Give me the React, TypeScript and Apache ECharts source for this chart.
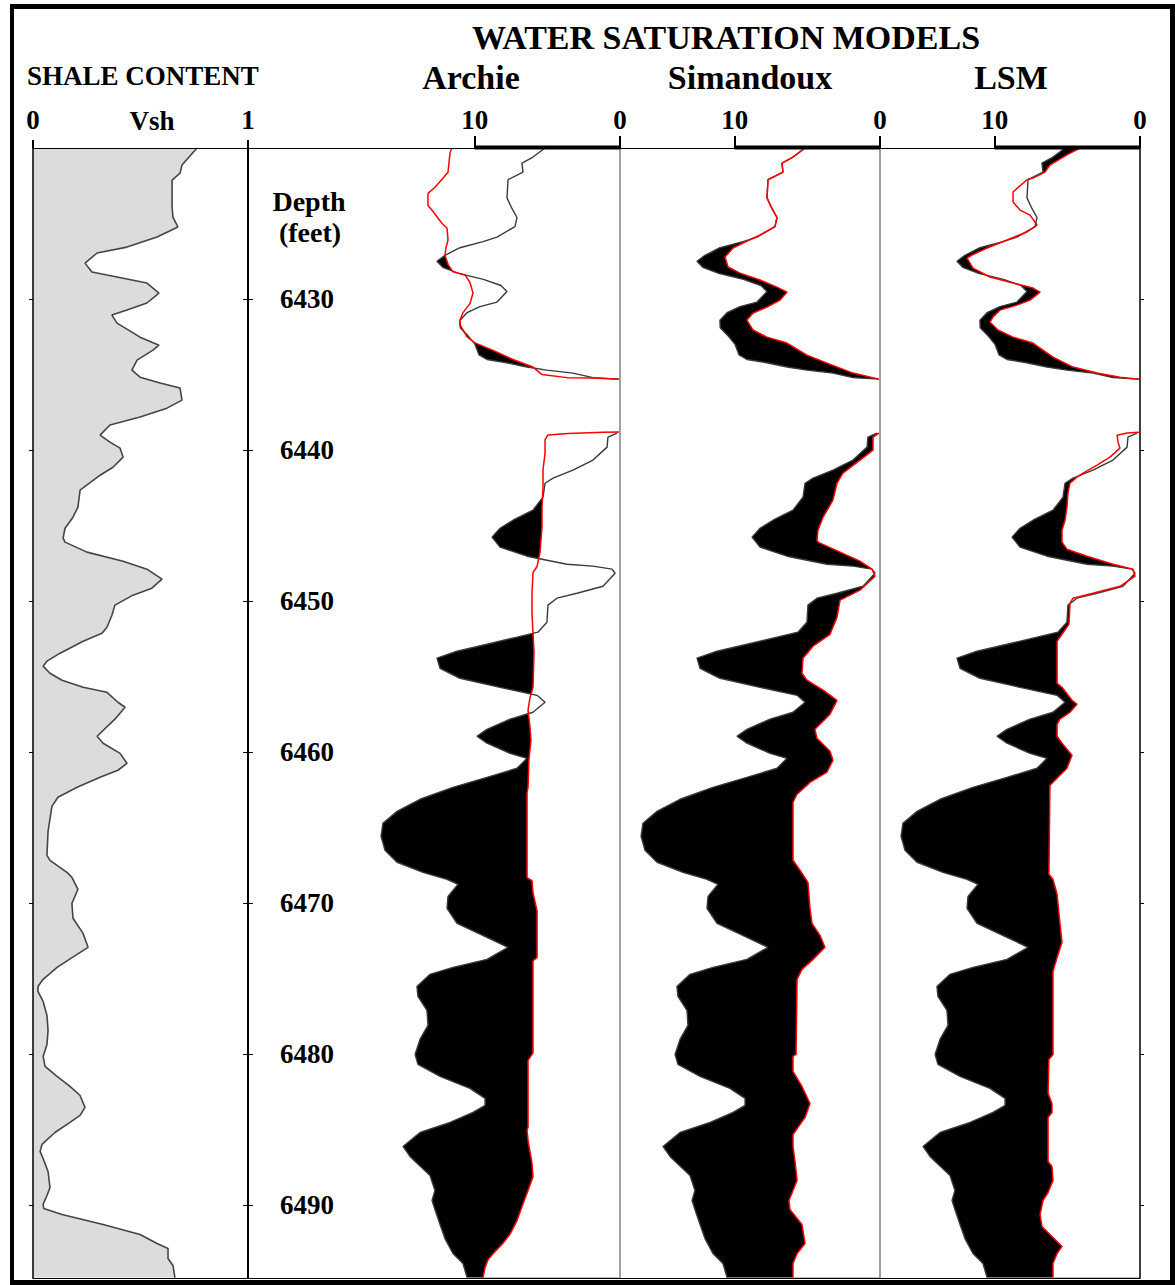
import React, { useEffect, useRef } from "react";
import * as echarts from "echarts";

type Pt = [number, number]; // [depth (ft), value]

const DEPTH_MIN = 6420;
const DEPTH_MAX = 6494.8;
const SW_MAX = 17.9;
const DEPTH_TICKS = [6430, 6440, 6450, 6460, 6470, 6480, 6490];
const VSH_TICKS = [0, 1];
const SW_TICKS = [0, 10];

// Shale volume (Vsh, 0..1)
const vshCurve: Pt[] = [
  [6420.0, 0.763], [6421.13, 0.693], [6421.66, 0.684], [6422.12, 0.647], [6423.91, 0.647], [6424.57, 0.651],
  [6425.23, 0.674], [6425.89, 0.577], [6426.56, 0.437], [6426.95, 0.298], [6427.62, 0.242], [6428.21, 0.274],
  [6428.41, 0.344], [6428.94, 0.53], [6429.6, 0.586], [6430.26, 0.53], [6430.73, 0.437], [6431.06, 0.367],
  [6431.59, 0.391], [6432.52, 0.498], [6433.05, 0.586], [6433.38, 0.558], [6434.04, 0.484], [6434.7, 0.46],
  [6435.17, 0.498], [6435.56, 0.591], [6435.89, 0.684], [6436.69, 0.693], [6437.22, 0.623], [6437.81, 0.498],
  [6438.34, 0.358], [6439.01, 0.312], [6439.47, 0.358], [6439.87, 0.405], [6440.46, 0.419], [6441.13, 0.372],
  [6441.66, 0.312], [6442.65, 0.219], [6443.77, 0.209], [6444.44, 0.186], [6445.17, 0.149], [6445.83, 0.14],
  [6446.09, 0.149], [6446.75, 0.251], [6447.35, 0.419], [6447.88, 0.53], [6448.54, 0.6], [6449.14, 0.553],
  [6449.6, 0.465], [6450.26, 0.381], [6450.93, 0.367], [6451.72, 0.344], [6452.12, 0.321], [6452.65, 0.233],
  [6453.44, 0.126], [6453.97, 0.065], [6454.3, 0.047], [6454.77, 0.079], [6455.23, 0.135], [6455.7, 0.233],
  [6456.03, 0.344], [6456.69, 0.395], [6457.02, 0.428], [6457.81, 0.381], [6458.94, 0.298], [6459.4, 0.326],
  [6460.07, 0.405], [6460.73, 0.437], [6461.19, 0.395], [6461.66, 0.312], [6462.32, 0.205], [6462.98, 0.116],
  [6463.58, 0.088], [6465.23, 0.07], [6466.82, 0.065], [6467.15, 0.079], [6467.95, 0.158], [6468.28, 0.181],
  [6469.07, 0.209], [6470.0, 0.181], [6470.99, 0.186], [6471.99, 0.233], [6472.91, 0.256], [6473.38, 0.205],
  [6474.24, 0.112], [6475.03, 0.047], [6475.5, 0.023], [6475.83, 0.023], [6476.49, 0.047], [6477.42, 0.065],
  [6478.41, 0.07], [6479.34, 0.065], [6480.13, 0.047], [6480.79, 0.056], [6481.46, 0.112], [6482.12, 0.172],
  [6482.72, 0.219], [6483.51, 0.242], [6484.04, 0.219], [6484.5, 0.172], [6485.17, 0.102], [6485.96, 0.042],
  [6486.42, 0.033], [6486.89, 0.047], [6487.75, 0.07], [6488.81, 0.079], [6489.34, 0.065], [6489.93, 0.047],
  [6490.2, 0.05], [6490.6, 0.135], [6491.26, 0.326], [6491.92, 0.498], [6492.52, 0.577], [6492.85, 0.628],
  [6493.51, 0.628], [6493.97, 0.651], [6494.77, 0.66],
];

// Reference (grey) curve, common to all three saturation tracks
const refUpper: Pt[] = [
  [6420.0, 5.16], [6420.6, 5.99], [6421.0, 6.75], [6421.6, 6.68], [6422.1, 7.71], [6423.3, 7.78], [6424.0, 7.44],
  [6424.6, 7.09], [6425.2, 7.23], [6425.9, 8.47], [6426.2, 9.43], [6426.6, 11.02], [6427.1, 12.05], [6427.5, 12.6],
  [6427.9, 12.2], [6428.3, 11.1], [6428.7, 9.4], [6429.1, 8.2], [6429.5, 7.78], [6430.2, 8.47], [6430.5, 9.64],
  [6430.9, 10.53], [6431.4, 11.02], [6431.9, 11.0], [6432.5, 10.4], [6433.0, 9.98], [6433.7, 9.7], [6434.0, 9.16],
  [6434.2, 7.9], [6434.5, 6.4], [6434.7, 5.03], [6434.9, 3.24], [6435.2, 1.86], [6435.3, 0.07],
];
const refLower: Pt[] = [
  [6438.87, 0.21], [6439.14, 0.83], [6439.8, 0.89], [6440.66, 1.86], [6441.32, 3.24], [6441.85, 4.61],
  [6442.19, 5.16], [6443.11, 5.3], [6443.97, 5.99], [6444.64, 7.37], [6445.17, 8.26], [6445.76, 8.81],
  [6446.42, 8.26], [6447.02, 6.4], [6447.55, 3.65], [6447.68, 1.86], [6447.88, 0.55], [6448.15, 0.34],
  [6449.01, 1.17], [6449.47, 2.96], [6449.8, 4.34], [6450.26, 4.96], [6451.39, 5.03], [6452.05, 5.65],
  [6452.38, 7.09], [6452.85, 9.16], [6453.31, 11.22], [6453.77, 12.6], [6454.44, 12.39], [6455.1, 11.02],
  [6455.7, 8.26], [6456.23, 5.71], [6456.69, 5.16], [6457.35, 5.99], [6457.81, 7.57], [6458.48, 9.16],
  [6458.94, 9.85], [6459.4, 9.16], [6460.07, 7.57], [6460.4, 6.4], [6461.06, 7.09], [6461.66, 9.16],
  [6462.32, 11.5], [6463.11, 13.77], [6463.91, 15.35], [6464.7, 16.32], [6465.56, 16.45], [6466.49, 16.18],
  [6467.28, 15.35], [6467.95, 13.56], [6468.41, 11.91], [6468.74, 11.15], [6469.54, 11.84], [6470.33, 11.91],
  [6471.32, 11.22], [6472.25, 9.16], [6472.91, 7.71], [6473.71, 9.16], [6474.24, 11.5], [6474.7, 13.08],
  [6475.5, 13.98], [6476.16, 13.91], [6477.09, 13.29], [6478.08, 13.22], [6479.01, 13.77], [6480.0, 14.11],
  [6480.66, 13.91], [6481.46, 12.39], [6482.25, 10.33], [6482.91, 9.29], [6483.38, 9.29], [6483.84, 10.12],
  [6484.5, 11.7], [6485.17, 13.77], [6486.09, 14.94], [6486.75, 14.46], [6488.01, 13.08], [6489.01, 12.74],
  [6489.67, 12.94], [6490.26, 12.74], [6491.26, 12.39], [6492.19, 12.05], [6493.18, 11.5], [6493.84, 10.81],
  [6494.77, 10.53],
];

// Archie model (red)
const archieUpper: Pt[] = [
  [6420.0, 11.57], [6420.3, 11.7], [6421.6, 11.84], [6422.0, 12.19], [6422.6, 12.74], [6423.0, 13.22],
  [6423.8, 13.22], [6424.2, 12.87], [6425.0, 12.25], [6425.3, 11.91], [6426.1, 11.84], [6426.6, 11.98],
  [6427.1, 12.05], [6427.7, 11.84], [6428.2, 11.5], [6428.4, 10.67], [6428.9, 10.33], [6429.6, 10.12],
  [6430.3, 10.33], [6430.9, 10.81], [6431.4, 11.02], [6431.7, 11.02], [6432.5, 10.53], [6432.9, 9.98],
  [6433.4, 8.74], [6434.0, 7.37], [6434.5, 5.99], [6435.0, 5.37], [6435.2, 3.65], [6435.22, 1.86], [6435.3, 0.07],
];
const archieLower: Pt[] = [
  [6438.8, 0.07], [6438.82, 1.17], [6438.9, 3.58], [6439.0, 4.96], [6439.3, 5.16], [6440.2, 5.16], [6441.3, 5.3],
  [6442.5, 5.3], [6443.8, 5.37], [6445.1, 5.37], [6446.8, 5.51], [6447.7, 5.71], [6448.1, 5.99], [6449.5, 6.06],
  [6450.8, 6.06], [6452.1, 5.99], [6453.4, 5.92], [6455.7, 5.99], [6456.4, 6.2], [6457.2, 6.33], [6458.3, 6.2],
  [6459.2, 6.13], [6460.5, 6.27], [6462.3, 6.33], [6462.7, 6.4], [6468.3, 6.4], [6468.5, 6.06], [6469.3, 5.99],
  [6470.5, 5.71], [6473.6, 5.71], [6473.8, 5.99], [6479.9, 5.99], [6480.4, 6.33], [6484.8, 6.33], [6485.0, 6.4],
  [6485.7, 6.33], [6487.2, 6.06], [6488.1, 5.99], [6489.0, 6.33], [6489.9, 6.68], [6491.0, 7.09], [6491.9, 7.57],
  [6492.5, 8.06], [6493.2, 8.74], [6493.6, 9.09], [6494.1, 9.29], [6494.77, 9.43],
];

// Simandoux model (red)
const simUpper: Pt[] = [
  [6420.0, 5.16], [6420.6, 5.99], [6421.0, 6.75], [6421.6, 6.68], [6422.1, 7.71], [6423.3, 7.78], [6424.0, 7.44],
  [6424.6, 7.09], [6425.2, 7.23], [6425.76, 8.26], [6426.29, 9.43], [6426.62, 10.12], [6427.22, 10.67],
  [6427.88, 10.46], [6428.28, 9.64], [6428.74, 8.26], [6429.21, 7.09], [6429.54, 6.4], [6430.07, 6.88],
  [6430.53, 7.78], [6430.93, 8.74], [6431.39, 9.16], [6432.05, 8.74], [6432.52, 7.78], [6432.91, 6.4],
  [6433.71, 5.03], [6434.24, 3.65], [6434.9, 1.86], [6435.3, 0.07],
];
const simLower: Pt[] = [
  [6438.87, 0.07], [6439.14, 0.48], [6440.0, 0.48], [6440.66, 1.38], [6441.52, 2.55], [6442.19, 2.96],
  [6443.31, 3.24], [6444.44, 3.92], [6445.3, 4.27], [6445.96, 4.34], [6446.09, 4.27], [6446.75, 2.75],
  [6447.35, 1.38], [6447.88, 0.55], [6448.34, 0.34], [6449.27, 1.38], [6449.93, 2.75], [6451.06, 2.96],
  [6452.19, 3.44], [6452.98, 4.61], [6453.77, 5.3], [6454.77, 5.37], [6455.23, 5.03], [6455.89, 3.92],
  [6456.56, 2.96], [6457.48, 3.44], [6458.48, 4.48], [6459.07, 4.34], [6459.93, 3.44], [6460.53, 3.24],
  [6461.32, 3.65], [6461.99, 4.82], [6462.78, 5.71], [6463.31, 5.99], [6467.15, 5.99], [6467.81, 5.51],
  [6468.61, 4.96], [6470.33, 4.82], [6471.32, 4.68], [6472.12, 4.13], [6472.91, 3.79], [6473.71, 4.61],
  [6474.37, 5.37], [6475.03, 5.71], [6480.0, 5.78], [6480.13, 5.99], [6481.13, 5.99], [6482.12, 5.37],
  [6483.25, 4.82], [6484.17, 5.16], [6485.3, 5.99], [6486.09, 5.99], [6487.09, 5.85], [6488.34, 5.71],
  [6489.01, 5.99], [6489.67, 6.27], [6490.26, 6.2], [6491.26, 5.37], [6492.52, 5.16], [6493.18, 5.71],
  [6493.84, 5.99], [6494.77, 5.99],
];

// LSM model (red)
const lsmUpper: Pt[] = [
  [6420.0, 4.13], [6420.46, 5.03], [6421.13, 6.2], [6421.59, 6.54], [6421.99, 7.37], [6422.1, 7.78],
  [6422.91, 8.74], [6423.58, 8.74], [6424.11, 8.26], [6424.44, 7.57], [6425.1, 7.09], [6425.56, 7.78],
  [6426.09, 9.16], [6426.62, 10.53], [6427.09, 11.57], [6427.28, 11.91], [6427.95, 11.5], [6428.54, 10.33],
  [6428.94, 8.74], [6429.27, 7.37], [6429.54, 6.88], [6430.07, 7.57], [6430.4, 8.47], [6430.73, 9.64],
  [6431.19, 10.12], [6431.52, 10.33], [6432.05, 9.78], [6432.52, 8.74], [6432.91, 7.37], [6433.84, 5.99],
  [6434.5, 4.61], [6434.9, 2.96], [6435.17, 1.38], [6435.3, 0.07],
];
const lsmLower: Pt[] = [
  [6438.81, 0.07], [6438.87, 0.89], [6439.01, 1.58], [6439.47, 1.51], [6439.87, 1.38], [6440.46, 2.07],
  [6440.99, 2.96], [6441.52, 3.92], [6441.79, 4.34], [6442.19, 4.82], [6442.85, 4.96], [6443.77, 5.03],
  [6444.64, 5.16], [6445.3, 5.37], [6446.09, 5.37], [6446.56, 5.03], [6447.02, 3.65], [6447.55, 1.86],
  [6447.88, 0.48], [6448.34, 0.34], [6449.01, 1.38], [6449.47, 3.24], [6449.8, 4.61], [6450.13, 4.82],
  [6451.52, 4.89], [6452.19, 5.37], [6452.65, 5.71], [6455.43, 5.71], [6455.7, 5.37], [6456.56, 4.68],
  [6456.82, 4.34], [6457.35, 4.82], [6457.81, 5.51], [6458.15, 5.71], [6458.94, 5.71], [6459.4, 5.37],
  [6460.2, 4.68], [6461.06, 5.03], [6461.99, 5.99], [6462.19, 6.2], [6468.08, 6.27], [6468.41, 5.99],
  [6469.4, 5.71], [6471.32, 5.51], [6472.58, 5.37], [6473.58, 5.71], [6474.5, 5.99], [6480.0, 5.99],
  [6480.33, 6.27], [6482.58, 6.33], [6483.25, 6.06], [6483.84, 6.06], [6484.17, 6.33], [6487.09, 6.33],
  [6487.42, 6.06], [6488.34, 5.99], [6489.14, 6.33], [6489.67, 6.68], [6490.6, 6.88], [6491.39, 6.75],
  [6492.05, 6.06], [6492.71, 5.37], [6493.18, 5.71], [6493.84, 5.99], [6494.77, 5.99],
];

const FONT = "'Liberation Serif', 'Times New Roman', serif";

const toXY = (c: Pt[]) => c.map(([d, v]) => [v, d]);

function fillSeries(curve: Pt[], xi: number, yi: number, fill: string, z: number) {
  return {
    type: "custom",
    xAxisIndex: xi,
    yAxisIndex: yi,
    silent: true,
    z,
    data: toXY(curve),
    renderItem: (params: any, api: any) => {
      if (params.dataIndex !== 0) return null;
      const pts = curve.map(([d, v]) => api.coord([v, d]));
      pts.push(api.coord([0, curve[curve.length - 1][0]]));
      pts.push(api.coord([0, curve[0][0]]));
      return { type: "polygon", shape: { points: pts }, style: { fill } };
    },
  };
}

function lineSeries(curve: Pt[], xi: number, yi: number, color: string, width: number, z: number) {
  return {
    type: "line",
    xAxisIndex: xi,
    yAxisIndex: yi,
    data: toXY(curve),
    symbol: "none",
    silent: true,
    z,
    lineStyle: { color, width },
  };
}

function scaleBar(xi: number, yi: number) {
  return {
    type: "custom",
    xAxisIndex: xi,
    yAxisIndex: yi,
    silent: true,
    z: 12,
    data: [[SW_TICKS[1], DEPTH_MIN]],
    renderItem: (params: any, api: any) => {
      const a = api.coord([SW_TICKS[1], DEPTH_MIN]);
      const b = api.coord([SW_TICKS[0], DEPTH_MIN]);
      return {
        type: "rect",
        shape: { x: Math.min(a[0], b[0]), y: a[1] - 2.5, width: Math.abs(b[0] - a[0]), height: 4 },
        style: { fill: "#000" },
      };
    },
  };
}

const labelStyle = { fontSize: 27, fontWeight: "bold", fontFamily: FONT, color: "#000" };

function plainX(gridIndex: number, position: string, max: number, inverse: boolean) {
  return {
    gridIndex, type: "value", position, min: 0, max, inverse, z: 10,
    axisLine: { show: true, lineStyle: { color: "#000", width: 1 } },
    axisTick: { show: false }, axisLabel: { show: false }, splitLine: { show: false },
  };
}

function swTopX(gridIndex: number) {
  return {
    gridIndex, type: "value", position: "top", min: 0, max: SW_MAX, interval: 10, inverse: true, z: 10,
    axisLine: { show: true, lineStyle: { color: "#000", width: 1 } },
    axisTick: { show: true, inside: false, length: 12, customValues: SW_TICKS, lineStyle: { color: "#000", width: 2 } },
    axisLabel: { show: true, margin: 15, customValues: SW_TICKS, ...labelStyle },
    splitLine: { show: false },
  };
}

function depthY(gridIndex: number, position: string, extra: any) {
  return {
    gridIndex, type: "value", position, min: DEPTH_MIN, max: DEPTH_MAX, interval: 10, inverse: true, z: 10,
    splitLine: { show: false },
    axisLabel: { show: false },
    axisTick: { show: false },
    ...extra,
  };
}

function buildOption() {
  const top = 148;
  const height = 1130;
  return {
    animation: false,
    backgroundColor: "#fff",
    grid: [
      { left: 33, top, width: 215, height },
      { left: 248, top, width: 112, height },
      { left: 360, top, width: 260, height },
      { left: 620, top, width: 260, height },
      { left: 880, top, width: 260, height },
    ],
    xAxis: [
      {
        gridIndex: 0, type: "value", position: "top", min: 0, max: 1, interval: 1, z: 10,
        axisLine: { show: true, lineStyle: { color: "#000", width: 1 } },
        axisTick: { show: true, inside: false, length: 8, customValues: VSH_TICKS, lineStyle: { color: "#000", width: 2 } },
        axisLabel: { show: true, margin: 15, customValues: VSH_TICKS, ...labelStyle },
        splitLine: { show: false },
      },
      plainX(0, "bottom", 1, false),
      plainX(1, "top", 1, false),
      plainX(1, "bottom", 1, false),
      swTopX(2),
      plainX(2, "bottom", SW_MAX, true),
      swTopX(3),
      plainX(3, "bottom", SW_MAX, true),
      swTopX(4),
      plainX(4, "bottom", SW_MAX, true),
    ],
    yAxis: [
      depthY(0, "left", {
        axisLine: { show: true, lineStyle: { color: "#000", width: 1.5 } },
        axisTick: { show: true, inside: false, length: 4, customValues: DEPTH_TICKS, lineStyle: { color: "#000" } },
      }),
      depthY(1, "left", {
        axisLine: { show: true, lineStyle: { color: "#000", width: 2 } },
        axisTick: { show: true, inside: true, length: 5, customValues: DEPTH_TICKS, lineStyle: { color: "#000" } },
        axisLabel: {
          show: true, inside: true, margin: 32, customValues: DEPTH_TICKS, ...labelStyle,
          formatter: (v: number) => String(Math.round(v)),
        },
      }),
      depthY(1, "right", {
        axisLine: { show: true, lineStyle: { color: "#000", width: 1 } },
        axisTick: { show: true, inside: true, length: 5, customValues: DEPTH_TICKS, lineStyle: { color: "#000" } },
      }),
      depthY(2, "right", { axisLine: { show: true, lineStyle: { color: "#a0a0a0", width: 2 } } }),
      depthY(3, "right", { axisLine: { show: true, lineStyle: { color: "#a0a0a0", width: 2 } } }),
      depthY(4, "right", {
        axisLine: { show: true, lineStyle: { color: "#000", width: 1.5 } },
        axisTick: { show: true, inside: false, length: 4, customValues: DEPTH_TICKS, lineStyle: { color: "#000" } },
      }),
    ],
    series: [
      fillSeries(vshCurve, 0, 0, "#dcdcdc", 1),
      lineSeries(vshCurve, 0, 0, "#454545", 1.6, 3),

      fillSeries(refUpper, 4, 3, "#000", 1),
      fillSeries(refLower, 4, 3, "#000", 1),
      fillSeries(archieUpper, 4, 3, "#fff", 2),
      fillSeries(archieLower, 4, 3, "#fff", 2),
      lineSeries(refUpper, 4, 3, "#3a3a3a", 1.4, 3),
      lineSeries(refLower, 4, 3, "#3a3a3a", 1.4, 3),
      lineSeries(archieUpper, 4, 3, "#ff0000", 1.5, 4),
      lineSeries(archieLower, 4, 3, "#ff0000", 1.5, 4),
      scaleBar(4, 3),

      fillSeries(refUpper, 6, 4, "#000", 1),
      fillSeries(refLower, 6, 4, "#000", 1),
      fillSeries(simUpper, 6, 4, "#fff", 2),
      fillSeries(simLower, 6, 4, "#fff", 2),
      lineSeries(refUpper, 6, 4, "#3a3a3a", 1.4, 3),
      lineSeries(refLower, 6, 4, "#3a3a3a", 1.4, 3),
      lineSeries(simUpper, 6, 4, "#ff0000", 1.5, 4),
      lineSeries(simLower, 6, 4, "#ff0000", 1.5, 4),
      scaleBar(6, 4),

      fillSeries(refUpper, 8, 5, "#000", 1),
      fillSeries(refLower, 8, 5, "#000", 1),
      fillSeries(lsmUpper, 8, 5, "#fff", 2),
      fillSeries(lsmLower, 8, 5, "#fff", 2),
      lineSeries(refUpper, 8, 5, "#3a3a3a", 1.4, 3),
      lineSeries(refLower, 8, 5, "#3a3a3a", 1.4, 3),
      lineSeries(lsmUpper, 8, 5, "#ff0000", 1.5, 4),
      lineSeries(lsmLower, 8, 5, "#ff0000", 1.5, 4),
      scaleBar(8, 5),
    ],
    graphic: [
      { type: "rect", shape: { x: 10, y: 4, width: 1165, height: 5 }, style: { fill: "#000" }, silent: true },
      { type: "rect", shape: { x: 10, y: 4, width: 4, height: 1281 }, style: { fill: "#000" }, silent: true },
      { type: "rect", shape: { x: 1170, y: 4, width: 5, height: 1281 }, style: { fill: "#000" }, silent: true },
      { type: "rect", shape: { x: 10, y: 1280, width: 1165, height: 5 }, style: { fill: "#000" }, silent: true },
      txt("WATER SATURATION MODELS", 726, 37, 34, "center"),
      txt("SHALE CONTENT", 27, 76, 27, "left"),
      txt("Archie", 471, 77, 34, "center"),
      txt("Simandoux", 750, 77, 34, "center"),
      txt("LSM", 1011, 77, 34, "center"),
      txt("Vsh", 152, 121, 27, "center"),
      txt("Depth", 309, 201, 28, "center"),
      txt("(feet)", 310, 232, 28, "center"),
    ],
  };
}

function txt(text: string, x: number, y: number, size: number, align: string) {
  return {
    type: "text",
    x,
    y,
    silent: true,
    z: 20,
    style: { text, fontSize: size, fontWeight: "bold", fontFamily: FONT, fill: "#000", align, verticalAlign: "middle" },
  };
}

export default function App() {
  const ref = useRef<HTMLDivElement | null>(null);
  useEffect(() => {
    document.body.style.margin = "0";
    if (!ref.current) return;
    const chart = echarts.init(ref.current, null, { renderer: "svg" });
    chart.setOption(buildOption() as any);
    return () => chart.dispose();
  }, []);
  return <div ref={ref} style={{ position: "absolute", left: 0, top: 0, width: 1175, height: 1285 }} />;
}
